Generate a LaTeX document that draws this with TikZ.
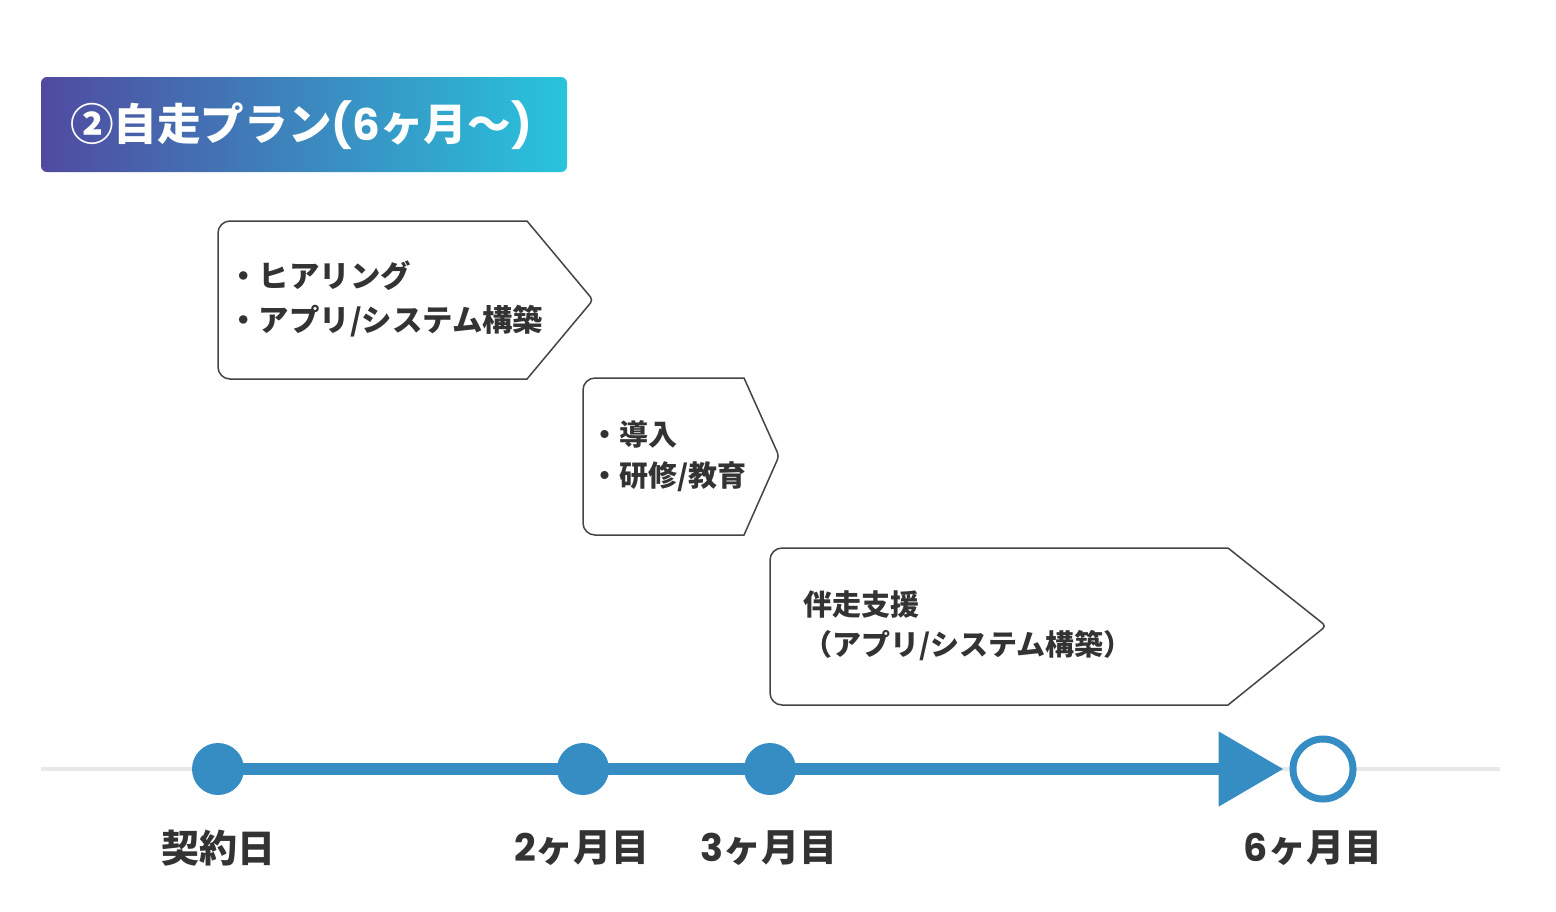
\documentclass[tikz,border=0pt]{standalone}
\usepackage{fontspec}
\usetikzlibrary{arrows.meta}
\newfontfamily\jp{Noto Sans CJK JP}
\newfontfamily\pop{Poppins}
\definecolor{tlblue}{RGB}{54,141,196}
\definecolor{txt}{RGB}{51,51,51}
\definecolor{bord}{RGB}{68,68,68}
\definecolor{gl}{RGB}{232,232,232}
\definecolor{gA}{RGB}{80,74,160}
\definecolor{gB}{RGB}{40,196,220}
\tikzset{
  pent/.style={draw=bord, line width=0.75pt, fill=white},
  boxtext/.style={anchor=west, inner sep=0pt, align=left, text=txt, font=\jp\bfseries\fontsize{14.5}{21}\selectfont},
  dot/.style={circle, fill=tlblue, minimum size=26pt, inner sep=0pt},
  endcircle/.style={circle, draw=tlblue, line width=3.5pt, fill=white, minimum size=30pt, inner sep=0pt},
  lab/.style={inner sep=0pt, text=txt, font=\jp\bfseries\fontsize{19}{21}\selectfont},
  title/.style={inner sep=0pt, text=white, font=\jp\bfseries\fontsize{21.8}{24}\selectfont},
}
\begin{document}
\begin{tikzpicture}[x=0.5pt,y=-0.5pt]
\useasboundingbox (0,0) rectangle (1556,911);
% title bar
\shade[left color=gA, right color=gB, rounded corners=3pt] (41,77) rectangle (567,172);
\node[title] (ttl) at (301,125) {②自走プラン{\pop\bfseries(6}ヶ月〜{\pop\bfseries)}};
% pentagon boxes
\draw[pent] (400,221) -- (527,221) [rounded corners=2pt] -- (593,300) [sharp corners] -- (527,379) [rounded corners=6pt] -- (218,379) -- (218,221) [sharp corners] -- cycle;
\node[boxtext, font=\jp\bfseries\fontsize{15.2}{22}\selectfont] (b1) at (228,299) {・ヒアリング\\・アプリ/システム構築};
\draw[pent] (650,378) -- (744,378) [rounded corners=2pt] -- (779,456) [sharp corners] -- (744,535) [rounded corners=6pt] -- (583,535) -- (583,378) [sharp corners] -- cycle;
\node[boxtext, font=\jp\bfseries\fontsize{14.5}{20.5}\selectfont] (b2) at (590,456) {・導入\\・研修/教育};
\draw[pent] (1000,548) -- (1228,548) [rounded corners=2pt] -- (1326,626) [sharp corners] -- (1228,705) [rounded corners=6pt] -- (770,705) -- (770,548) [sharp corners] -- cycle;
\node[boxtext, font=\jp\bfseries\fontsize{14.5}{20}\selectfont] (b3) at (803,626) {伴走支援\\（アプリ/システム構築）};
% timeline
\coordinate (gs) at (41,769);
\coordinate (ge) at (1500,769);
\draw[gl, line width=2pt] (gs) -- (ge);
\node[dot] (d0) at (218,769) {};
\node[dot] (d2) at (583,769) {};
\node[dot] (d3) at (770,769) {};
\node[endcircle] (d6) at (1323,769) {};
\draw[tlblue, line width=6pt, -{Triangle[length=32.5pt,width=36pt]}, shorten >=3pt] (d0.center) -- (d6.west);
% labels
\node[lab] (l0) at (218,848) {契約日};
\node[lab] (l2) at (582,848) {{\pop\bfseries 2}ヶ月目};
\node[lab] (l3) at (769,848) {{\pop\bfseries 3}ヶ月目};
\node[lab] (l6) at (1313,848) {{\pop\bfseries 6}ヶ月目};
\end{tikzpicture}
\end{document}
